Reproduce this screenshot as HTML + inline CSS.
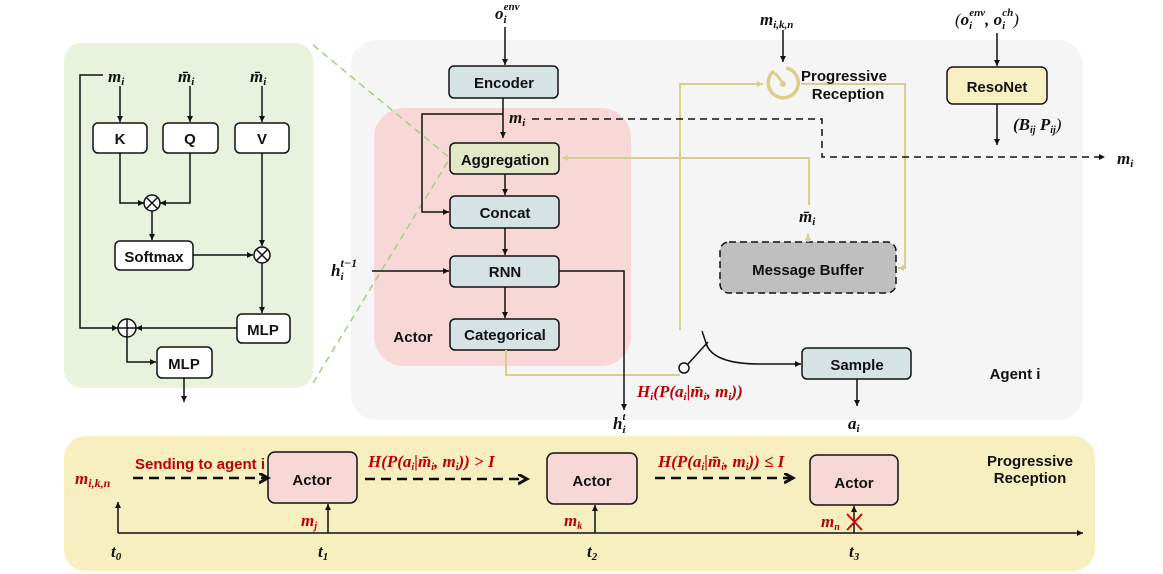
<!DOCTYPE html>
<html><head><meta charset="utf-8"><style>
html,body{margin:0;padding:0;background:#fff;}
svg{display:block;}
.b{font-family:"Liberation Sans",sans-serif;font-weight:bold;font-size:15px;fill:#111;}
.m{font-family:"Liberation Serif",serif;font-style:italic;font-weight:bold;font-size:17px;fill:#111;}
.r{fill:#c00000;}
</style></head><body>
<svg width="1163" height="574" viewBox="0 0 1163 574" xmlns="http://www.w3.org/2000/svg">
<defs>
<marker id="a" markerWidth="8" markerHeight="8" refX="6" refY="3" orient="auto" markerUnits="userSpaceOnUse"><path d="M0,0 L6,3 L0,6 z" fill="#111"/></marker>
<marker id="y" markerWidth="8" markerHeight="8" refX="6" refY="3" orient="auto" markerUnits="userSpaceOnUse"><path d="M0,0 L6,3 L0,6 z" fill="#d8cf8a"/></marker>
<marker id="ab" markerWidth="12" markerHeight="12" refX="9" refY="5" orient="auto" markerUnits="userSpaceOnUse"><path d="M0,0 L9,5 L0,10" fill="none" stroke="#111" stroke-width="3"/></marker>
</defs>
<rect x="64" y="43" width="249" height="345" rx="18" fill="#e8f2dd"/>
<rect x="351" y="40" width="732" height="380" rx="25" fill="#f5f5f5"/>
<rect x="374" y="108" width="257" height="258" rx="30" fill="#f8d7d7"/>
<rect x="64" y="436" width="1031" height="135" rx="22" fill="#f7efc0"/>
<line x1="313" y1="45" x2="450" y2="158" stroke="#9fd17f" stroke-width="1.5" stroke-dasharray="7,5"/>
<line x1="313" y1="383" x2="450" y2="158" stroke="#9fd17f" stroke-width="1.5" stroke-dasharray="7,5"/>

<g stroke="#111" stroke-width="1.5" fill="none">
<rect x="93" y="123" width="54" height="30" rx="5" fill="#fff"/>
<rect x="163" y="123" width="55" height="30" rx="5" fill="#fff"/>
<rect x="235" y="123" width="54" height="30" rx="5" fill="#fff"/>
<rect x="115" y="241" width="78" height="29" rx="5" fill="#fff"/>
<rect x="237" y="314" width="53" height="29" rx="5" fill="#fff"/>
<rect x="157" y="347" width="55" height="31" rx="5" fill="#fff"/>
<line x1="120" y1="86" x2="120" y2="122" marker-end="url(#a)"/>
<line x1="190" y1="86" x2="190" y2="122" marker-end="url(#a)"/>
<line x1="262" y1="86" x2="262" y2="122" marker-end="url(#a)"/>
<polyline points="120,153 120,203 144,203" marker-end="url(#a)"/>
<polyline points="190,153 190,203 160,203" marker-end="url(#a)"/>
<circle cx="152" cy="203" r="8" fill="#fff"/>
<path d="M146.5,197.5 L157.5,208.5 M157.5,197.5 L146.5,208.5"/>
<line x1="152" y1="211" x2="152" y2="240" marker-end="url(#a)"/>
<line x1="193" y1="255" x2="253" y2="255" marker-end="url(#a)"/>
<line x1="262" y1="153" x2="262" y2="246" marker-end="url(#a)"/>
<circle cx="262" cy="255" r="8" fill="#fff"/>
<path d="M256.5,249.5 L267.5,260.5 M267.5,249.5 L256.5,260.5"/>
<line x1="262" y1="263" x2="262" y2="313" marker-end="url(#a)"/>
<line x1="237" y1="328" x2="136" y2="328" marker-end="url(#a)"/>
<polyline points="103,75 80,75 80,328 118,328" marker-end="url(#a)"/>
<circle cx="127" cy="328" r="9" fill="#fff"/>
<path d="M118,328 L136,328 M127,319 L127,337"/>
<polyline points="127,337 127,362 156,362" marker-end="url(#a)"/>
<line x1="184" y1="378" x2="184" y2="402" marker-end="url(#a)"/>
</g>
<text class="b" x="120" y="144" text-anchor="middle">K</text>
<text class="b" x="190" y="144" text-anchor="middle">Q</text>
<text class="b" x="262" y="144" text-anchor="middle">V</text>
<text class="b" x="154" y="262" text-anchor="middle">Softmax</text>
<text class="b" x="263" y="335" text-anchor="middle">MLP</text>
<text class="b" x="184" y="369" text-anchor="middle">MLP</text>
<text class="m" x="108" y="82">m<tspan font-size="11" dy="3">i</tspan></text>
<text class="m" x="178" y="82">m̄<tspan font-size="11" dy="3">i</tspan></text>
<text class="m" x="250" y="82">m̄<tspan font-size="11" dy="3">i</tspan></text>

<g stroke="#111" stroke-width="1.5">
<rect x="449" y="66" width="109" height="32" rx="5" fill="#d5e3e5"/>
<rect x="450" y="143" width="109" height="31" rx="5" fill="#e3e8c9"/>
<rect x="450" y="196" width="109" height="32" rx="5" fill="#d5e3e5"/>
<rect x="450" y="256" width="109" height="31" rx="5" fill="#d5e3e5"/>
<rect x="450" y="319" width="109" height="31" rx="5" fill="#d5e3e5"/>
<rect x="802" y="348" width="109" height="31" rx="5" fill="#d5e3e5"/>
<rect x="947" y="67" width="100" height="37" rx="6" fill="#f8efc3"/>
<rect x="720" y="242" width="176" height="51" rx="9" fill="#bfbfbf" stroke-dasharray="7,4"/>
</g>
<text class="b" x="504" y="88" text-anchor="middle" font-size="16">Encoder</text>
<text class="b" x="505" y="165" text-anchor="middle" font-size="16">Aggregation</text>
<text class="b" x="505" y="218" text-anchor="middle" font-size="16">Concat</text>
<text class="b" x="505" y="277" text-anchor="middle" font-size="16">RNN</text>
<text class="b" x="505" y="340" text-anchor="middle" font-size="16">Categorical</text>
<text class="b" x="413" y="342" text-anchor="middle" font-size="18">Actor</text>
<text class="b" x="857" y="370" text-anchor="middle" font-size="16">Sample</text>
<text class="b" x="997" y="92" text-anchor="middle" font-size="16">ResoNet</text>
<text class="b" x="808" y="275" text-anchor="middle" font-size="16">Message Buffer</text>
<text class="b" x="1015" y="379" text-anchor="middle" font-size="18">Agent i</text>

<g stroke="#d8cf8a" stroke-width="2" fill="none">
<polyline points="506,350 506,375 680,375"/>
<polyline points="680,330 680,84 763,84" marker-end="url(#y)"/>
<polyline points="801,84 905,84 905,268 898,268" marker-end="url(#y)"/>
<polyline points="809,205 809,158 562,158" marker-end="url(#y)"/>
<line x1="808" y1="242" x2="808" y2="234" marker-end="url(#y)"/>
<path d="M786,68 A15,15 0 1 1 774,71" stroke-width="3.5"/>
<line x1="783" y1="83" x2="775" y2="73" stroke-width="3"/>
</g>
<circle cx="783" cy="84" r="3" fill="#d8cf8a"/>

<g stroke="#111" stroke-width="1.5" fill="none">
<line x1="505" y1="27" x2="505" y2="65" marker-end="url(#a)"/>
<line x1="503" y1="98" x2="503" y2="138" marker-end="url(#a)"/>
<polyline points="503,114 422,114 422,212 449,212" marker-end="url(#a)"/>
<line x1="505" y1="174" x2="505" y2="195" marker-end="url(#a)"/>
<line x1="505" y1="228" x2="505" y2="255" marker-end="url(#a)"/>
<line x1="505" y1="287" x2="505" y2="318" marker-end="url(#a)"/>
<line x1="372" y1="271" x2="449" y2="271" marker-end="url(#a)"/>
<polyline points="559,271 624,271 624,410" marker-end="url(#a)"/>
<polyline points="532,119 822,119 822,157 1105,157" stroke-dasharray="7,5" marker-end="url(#a)"/>
<line x1="783" y1="30" x2="783" y2="62" marker-end="url(#a)"/>
<line x1="997" y1="33" x2="997" y2="66" marker-end="url(#a)"/>
<line x1="997" y1="104" x2="997" y2="145" marker-end="url(#a)"/>
<circle cx="684" cy="368" r="5" fill="#fff"/>
<line x1="688" y1="364" x2="708" y2="342"/>
<line x1="702" y1="331" x2="707" y2="346"/>
<path d="M706,343 Q712,364 760,364 L801,364" marker-end="url(#a)"/>
<line x1="857" y1="379" x2="857" y2="406" marker-end="url(#a)"/>
</g>
<text class="m" x="495" y="19">o<tspan font-size="11" dy="4">i</tspan><tspan font-size="11" dy="-13" dx="-3">env</tspan></text>
<text class="m" x="509" y="123">m<tspan font-size="11" dy="3">i</tspan></text>
<text class="m" x="331" y="276">h<tspan font-size="11" dy="4">i</tspan><tspan font-size="12" dy="-13" dx="-3">t−1</tspan></text>
<text class="m" x="613" y="429">h<tspan font-size="11" dy="4">i</tspan><tspan font-size="11" dy="-13" dx="-3">t</tspan></text>
<text class="m" x="760" y="25">m<tspan font-size="11" dy="3">i,k,n</tspan></text>
<text class="b" x="844" y="81" text-anchor="middle">Progressive</text>
<text class="b" x="848" y="99" text-anchor="middle">Reception</text>
<text class="m" x="955" y="25"><tspan font-weight="normal">(</tspan>o<tspan font-size="11" dy="4">i</tspan><tspan font-size="11" dy="-13" dx="-3">env</tspan><tspan dy="9">, o</tspan><tspan font-size="11" dy="4">i</tspan><tspan font-size="11" dy="-13" dx="-3">ch</tspan><tspan dy="9" font-weight="normal">)</tspan></text>
<text class="m" x="1013" y="130" font-size="14">(B<tspan font-size="10" dy="3">ij</tspan><tspan dy="-3">   P</tspan><tspan font-size="10" dy="3">ij</tspan><tspan dy="-3" font-weight="normal">)</tspan></text>
<text class="m" x="1117" y="164">m<tspan font-size="11" dy="3">i</tspan></text>
<text class="m" x="799" y="222">m̄<tspan font-size="11" dy="3">i</tspan></text>
<text class="m" x="848" y="429">a<tspan font-size="11" dy="3">i</tspan></text>
<text class="m r" x="637" y="397" font-size="17">H<tspan font-size="11" dy="3">i</tspan><tspan dy="-3">(P(a</tspan><tspan font-size="11" dy="3">i</tspan><tspan dy="-3">|m̄</tspan><tspan font-size="11" dy="3">i</tspan><tspan dy="-3">, m</tspan><tspan font-size="11" dy="3">i</tspan><tspan dy="-3">))</tspan></text>

<g stroke="#111" stroke-width="1.5" fill="none">
<line x1="118" y1="533" x2="1083" y2="533" marker-end="url(#a)"/>
<line x1="118" y1="533" x2="118" y2="502" marker-end="url(#a)"/>
<line x1="328" y1="533" x2="328" y2="504" marker-end="url(#a)"/>
<line x1="595" y1="533" x2="595" y2="505" marker-end="url(#a)"/>
<line x1="854" y1="533" x2="854" y2="506" marker-end="url(#a)"/>
<rect x="268" y="452" width="89" height="51" rx="7" fill="#f8d7d7"/>
<rect x="547" y="453" width="90" height="51" rx="7" fill="#f8d7d7"/>
<rect x="810" y="455" width="88" height="50" rx="7" fill="#f8d7d7"/>
<g stroke-width="2.5" stroke-dasharray="10,6">
<line x1="133" y1="478" x2="268" y2="478" marker-end="url(#ab)"/>
<line x1="365" y1="479" x2="527" y2="479" marker-end="url(#ab)"/>
<line x1="655" y1="478" x2="793" y2="478" marker-end="url(#ab)"/>
</g>
</g>
<path d="M847,514 L862,530 M862,514 L847,530" stroke="#d00" stroke-width="2"/>
<text class="b" x="312" y="485" text-anchor="middle" font-size="19">Actor</text>
<text class="b" x="592" y="486" text-anchor="middle" font-size="19">Actor</text>
<text class="b" x="854" y="488" text-anchor="middle" font-size="19">Actor</text>
<text class="b" x="1030" y="466" text-anchor="middle">Progressive</text>
<text class="b" x="1030" y="483" text-anchor="middle">Reception</text>
<text class="b r" x="135" y="469" font-size="14">Sending to agent i</text>
<text class="m r" x="75" y="484" font-size="20">m<tspan font-size="12" dy="3">i,k,n</tspan></text>
<text class="m r" x="368" y="467" font-size="15">H(P(a<tspan font-size="10" dy="3">i</tspan><tspan dy="-3">|m̄</tspan><tspan font-size="10" dy="3">i</tspan><tspan dy="-3">, m</tspan><tspan font-size="10" dy="3">i</tspan><tspan dy="-3">)) &gt;  I</tspan></text>
<text class="m r" x="658" y="467" font-size="15">H(P(a<tspan font-size="10" dy="3">i</tspan><tspan dy="-3">|m̄</tspan><tspan font-size="10" dy="3">i</tspan><tspan dy="-3">, m</tspan><tspan font-size="10" dy="3">i</tspan><tspan dy="-3">)) ≤  I</tspan></text>
<text class="m r" x="301" y="526" font-size="15">m<tspan font-size="10" dy="3">j</tspan></text>
<text class="m r" x="564" y="526" font-size="15">m<tspan font-size="10" dy="3">k</tspan></text>
<text class="m r" x="821" y="527" font-size="15">m<tspan font-size="10" dy="3">n</tspan></text>
<text class="m" x="111" y="557" font-size="18">t<tspan font-size="11" dy="3">0</tspan></text>
<text class="m" x="318" y="557" font-size="18">t<tspan font-size="11" dy="3">1</tspan></text>
<text class="m" x="587" y="557" font-size="18">t<tspan font-size="11" dy="3">2</tspan></text>
<text class="m" x="849" y="557" font-size="18">t<tspan font-size="11" dy="3">3</tspan></text>
</svg>
</body></html>
